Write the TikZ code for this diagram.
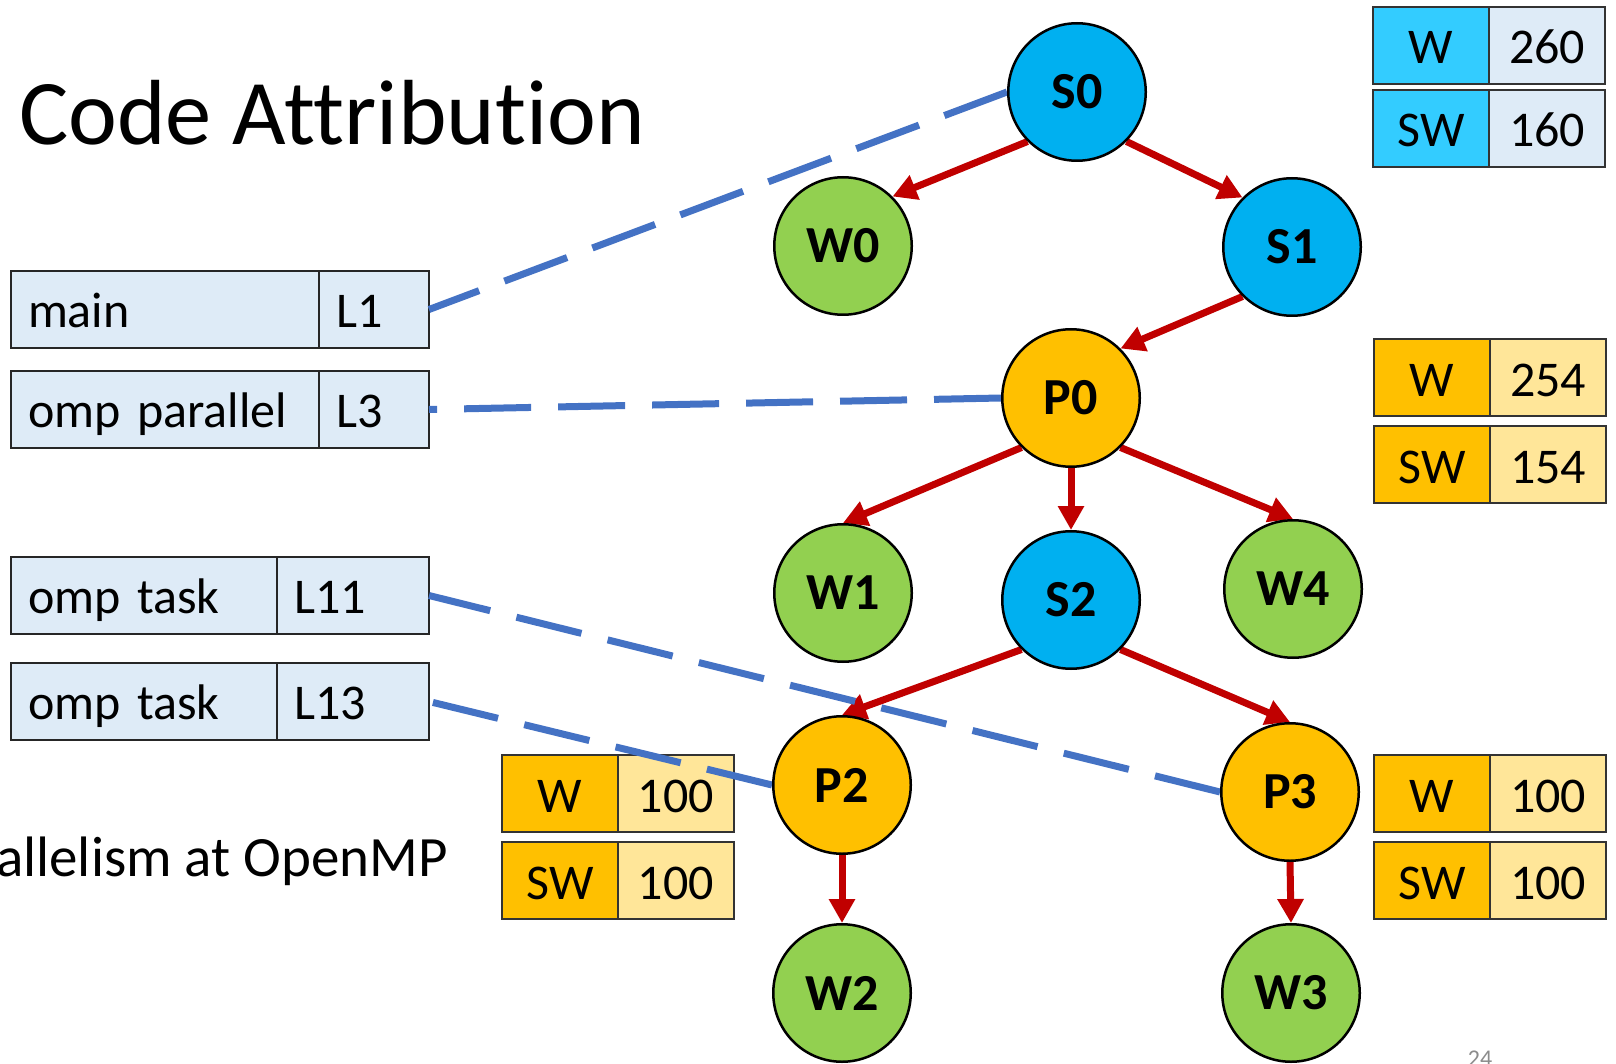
\documentclass[tikz,border=0pt]{standalone}
\usepackage{fontspec}
\setmainfont{Carlito}[Ligatures=NoCommon]
\usetikzlibrary{arrows.meta,backgrounds}
\definecolor{scyan}{HTML}{00B0F0}
\definecolor{wgreen}{HTML}{92D050}
\definecolor{pgold}{HTML}{FFC000}
\definecolor{keycyan}{HTML}{33CCFF}
\definecolor{paleblue}{HTML}{DEEBF7}
\definecolor{palegold}{HTML}{FFE699}
\definecolor{edgered}{HTML}{C00000}
\definecolor{linkblue}{HTML}{4472C4}
\definecolor{pagegray}{HTML}{8C8C8C}

% one row of a metric table: key cell and value cell
\newcommand\mrow[7]{%
  \node[mcell, fill=#4, anchor=north west] (#1k) at (#2,#3) {#6};
  \node[mcell, fill=#5, anchor=north west] (#1v) at (#1k.north east) {#7};
}
% one code box: construct name cell and line cell
\newcommand\crow[6]{%
  \node[ccell, text width=#4, anchor=north west] (#1n) at (11,#2) {#5};
  \node[ccell, text width=#3, anchor=north west] (#1l) at (#1n.north east) {#6};
}

\begin{document}
\begin{tikzpicture}[x=1pt,y=-1pt,
  task/.style={circle, draw=black, line width=2.5pt, minimum size=137.5pt,
    inner sep=0pt, font=\fontsize{52}{62}\selectfont\bfseries},
  snode/.style={task, fill=scyan},
  wnode/.style={task, fill=wgreen},
  pnode/.style={task, fill=pgold},
  mcell/.style={draw=black!80, line width=2pt, minimum width=116pt,
    minimum height=77pt, inner sep=0pt, outer sep=0pt,
    text height=37pt, text depth=0pt, font=\fontsize{50}{60}\selectfont},
  ccell/.style={draw=black!85, fill=paleblue, line width=2pt, minimum height=77pt,
    inner ysep=0pt, inner xsep=17pt, outer sep=0pt, align=left,
    text height=35pt, text depth=0pt, font=\fontsize{50}{60}\selectfont},
  flow/.style={draw=edgered, line width=7pt, -{Triangle[length=24pt,width=25pt]}},
  attr/.style={draw=linkblue, line width=7pt, dash pattern=on 67pt off 27pt},
]
\useasboundingbox (0,0) rectangle (1616,1064);

% headings
\node[anchor=base west, inner sep=0pt, font=\fontsize{92.5}{100}\selectfont]
  (title) at (19,145) {Code Attribution};
\node[anchor=base east, inner sep=0pt, font=\fontsize{57}{68}\selectfont]
  (sub) at (448,876) {allelism at OpenMP};
\node[anchor=base, inner sep=0pt, text=pagegray, font=\fontsize{24}{28}\selectfont]
  (pg) at (1480,1066) {24};

% task tree
\node[snode] (S0) at (1077,92) {S0};
\node[wnode] (W0) at (843,246) {W0};
\node[snode] (S1) at (1292,247) {S1};
\node[pnode] (P0) at (1071,398) {P0};
\node[wnode] (W1) at (843,593) {W1};
\node[snode] (S2) at (1071,600) {S2};
\node[wnode] (W4) at (1293,589) {W4};
\node[pnode] (P2) at (842,785) {P2};
\node[pnode] (P3) at (1290,792) {P3};
\node[wnode] (W2) at (842,993) {W2};
\node[wnode] (W3) at (1291,993) {W3};

\begin{pgfonlayer}{background}
  % source constructs
  \crow{main}{271}{76pt}{274pt}{main}{L1}
  \crow{par}{371}{76pt}{274pt}{omp parallel}{L3}
  \crow{taska}{557}{118pt}{232pt}{omp task}{L11}
  \crow{taskb}{663}{118pt}{232pt}{omp task}{L13}

  % work and span tables
  \mrow{sw}{1373}{7}{keycyan}{paleblue}{W}{260}
  \mrow{ssw}{1373}{90}{keycyan}{paleblue}{SW}{160}
  \mrow{pw}{1374}{339}{pgold}{palegold}{W}{254}
  \mrow{psw}{1374}{426}{pgold}{palegold}{SW}{154}
  \mrow{qw}{502}{755}{pgold}{palegold}{W}{100}
  \mrow{qsw}{502}{842}{pgold}{palegold}{SW}{100}
  \mrow{rw}{1374}{755}{pgold}{palegold}{W}{100}
  \mrow{rsw}{1374}{842}{pgold}{palegold}{SW}{100}

  % spawn edges
  \draw[flow] (S0.south west) -- (W0.north east);
  \draw[flow] (S0.south east) -- (S1.north west);
  \draw[flow] (S1.south west) -- (P0.north east);
  \draw[flow] (P0.south west) -- (W1.north);
  \draw[flow] (P0.south) -- (S2.north);
  \draw[flow] (P0.south east) -- (W4.north);
  \draw[flow] (S2.south west) -- (P2.north);
  \draw[flow] (S2.south east) -- (P3.north);
  \draw[flow] (P2.south) -- (W2.north);
  \draw[flow] (P3.south) -- (W3.north);

  % attribution links
  \draw[attr] (S0.west) -- (mainl.east);
  \draw[attr] (P0.west) -- (parl.east);
  \draw[attr] (P3.west) -- (taskal.east);
  \draw[attr] (P2.west) -- (taskbl.east);
\end{pgfonlayer}
\end{tikzpicture}
\end{document}
